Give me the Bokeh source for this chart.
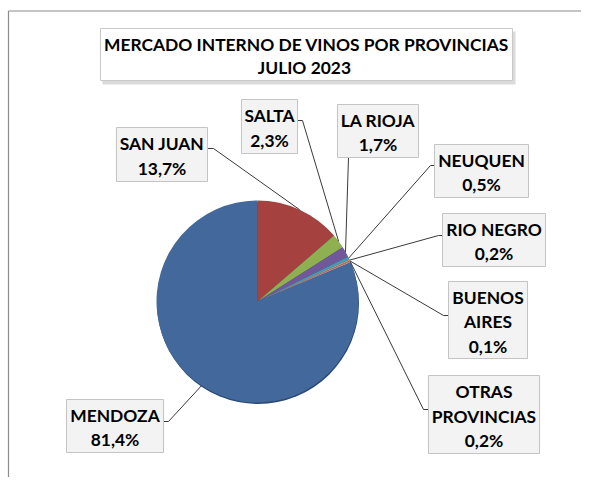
import math
from bokeh.plotting import figure
from bokeh.models import Range1d
from bokeh.core.properties import value
from bokeh.embed import file_html
from bokeh.resources import INLINE

# ---------------- data ----------------
title_lines = ["MERCADO INTERNO DE VINOS POR PROVINCIAS", "JULIO  2023"]
provinces = ["SAN JUAN", "SALTA", "LA RIOJA", "NEUQUEN", "RIO NEGRO",
             "BUENOS AIRES", "OTRAS PROVINCIAS", "MENDOZA"]
name_lines = [["SAN JUAN"], ["SALTA"], ["LA RIOJA"], ["NEUQUEN"], ["RIO NEGRO"],
              ["BUENOS", "AIRES"], ["OTRAS", "PROVINCIAS"], ["MENDOZA"]]
shares = [13.7, 2.3, 1.7, 0.5, 0.2, 0.1, 0.2, 81.4]
slice_colors = ["#A5423F", "#8FB050", "#71589A", "#3F9DB8", "#E39158",
                "#5B8BC4", "#D48C8A", "#43699C"]

# ---------------- layout (screen pixels) ----------------
W, H = 581, 477
OX, OY = 0, 0


def X(sx):
    return sx - OX


def Y(sy):
    return H + OY - sy


FONT = value("Lato")
pie_cx, pie_cy, pie_r = 257, 301, 101

# label boxes: left, right, top, bottom ; leader anchor and elbow
boxes = [
    (116, 207, 127, 181),
    (241, 297, 99, 153),
    (337, 418, 104, 157),
    (434, 528, 144, 197),
    (442, 545, 213, 266),
    (448, 527, 281, 358),
    (428, 539, 375, 453),
    (66, 163, 399, 452),
]
anchors = [
    [(207, 148), (213, 148)],
    [(297, 120), (302, 120)],
    [(348, 157)],
    [(434, 165), (430, 165)],
    [(442, 235), (438, 235)],
    [(448, 315), (443, 315)],
    [(428, 409), (423, 409)],
    [(163, 421), (168, 421)],
]

p = figure(width=W, height=H, x_range=Range1d(0, W), y_range=Range1d(0, H),
           output_backend="svg", toolbar_location=None, min_border=0,
           x_axis_type=None, y_axis_type=None)
p.grid.visible = False
p.outline_line_color = None
p.background_fill_color = "white"
p.border_fill_color = "white"

# chart area border (left and top visible)
p.segment(x0=[X(8), X(8)], y0=[Y(10.5), Y(10.5)], x1=[X(8), W], y1=[0, Y(10.5)],
          line_color="#8C8C8C", line_width=1.2)

# title box with shadow
tl, tr, tt, tb = 100, 512, 28, 80
p.quad(left=[X(tl + 2)], right=[X(tr + 3)], top=[Y(tt + 3)], bottom=[Y(tb + 4)],
       fill_color="#B0B0B0", fill_alpha=0.45, line_color=None)
p.quad(left=[X(tl)], right=[X(tr)], top=[Y(tt)], bottom=[Y(tb)],
       fill_color="white", line_color="#C8C8C8", line_width=1)
p.text(x=[X((tl + tr) / 2)] * 2, y=[Y(44), Y(67)], text=title_lines,
       text_font=FONT, text_font_style="bold", text_font_size="17.4px",
       text_align="center", text_baseline="middle", text_color="black")

# pie
total = sum(shares)
cum = [0.0]
for s in shares:
    cum.append(cum[-1] + s / total)
starts = [math.pi / 2 - c1 * 2 * math.pi for c1 in cum[1:]]
ends = [math.pi / 2 - c0 * 2 * math.pi for c0 in cum[:-1]]
mids = [(a + b) / 2 for a, b in zip(starts, ends)]

# shadow rim
p.circle(x=[X(pie_cx + 0.5)], y=[Y(pie_cy + 1.5)], radius=pie_r,
         fill_color="#2C4A73", line_color=None)
p.wedge(x=[X(pie_cx)] * len(shares), y=[Y(pie_cy)] * len(shares), radius=pie_r,
        start_angle=starts, end_angle=ends, fill_color=slice_colors,
        line_color=None)

# leader lines
xs, ys = [], []
for anc, m in zip(anchors, mids):
    px = X(pie_cx) + pie_r * math.cos(m)
    py = Y(pie_cy) + pie_r * math.sin(m)
    xs.append([X(a[0]) for a in anc] + [px])
    ys.append([Y(a[1]) for a in anc] + [py])
p.multi_line(xs=xs, ys=ys, line_color="#3A3A3A", line_width=1)

# label boxes and text
p.quad(left=[X(b[0]) for b in boxes], right=[X(b[1]) for b in boxes],
       top=[Y(b[2]) for b in boxes], bottom=[Y(b[3]) for b in boxes],
       fill_color="#F3F3F3", line_color="#C4C4C4", line_width=1)

tx, ty, tt_ = [], [], []
for b, names, s in zip(boxes, name_lines, shares):
    lines = names + [f"{s:.1f}".replace(".", ",") + "%"]
    n = len(lines)
    mid = (b[2] + b[3]) / 2 + 1.5
    for i, ln in enumerate(lines):
        tx.append(X((b[0] + b[1]) / 2))
        ty.append(Y(mid + (i - (n - 1) / 2) * 24.5))
        tt_.append(ln)
p.text(x=tx, y=ty, text=tt_, text_font=FONT, text_font_style="bold",
       text_font_size="17.4px", text_align="center", text_baseline="middle",
       text_color="black")

open("out.html", "w").write(file_html(p, INLINE))
